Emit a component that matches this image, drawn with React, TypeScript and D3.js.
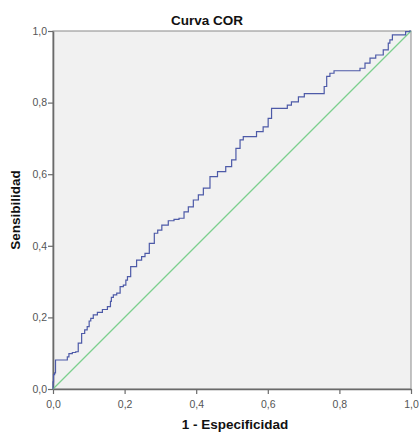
import React from "react";
import * as d3 from "d3";

// ROC points: [1 - especificidad, sensibilidad]
const rocPoints: [number, number][] = [
  [0, 0], [0, 0.02], [0.003, 0.04], [0.006, 0.045], [0.008, 0.081], [0.038, 0.081],
  [0.042, 0.09], [0.047, 0.099], [0.061, 0.102], [0.066, 0.104], [0.075, 0.128],
  [0.085, 0.155], [0.092, 0.165], [0.099, 0.174], [0.103, 0.19], [0.108, 0.197],
  [0.117, 0.207], [0.131, 0.214], [0.145, 0.222], [0.159, 0.23], [0.162, 0.245],
  [0.164, 0.256], [0.173, 0.263], [0.183, 0.268], [0.192, 0.286], [0.201, 0.29],
  [0.206, 0.304], [0.21, 0.314], [0.224, 0.342], [0.243, 0.36], [0.252, 0.37],
  [0.262, 0.379], [0.276, 0.407], [0.29, 0.435], [0.295, 0.444], [0.313, 0.458],
  [0.331, 0.47], [0.345, 0.474], [0.359, 0.477], [0.373, 0.495], [0.383, 0.509],
  [0.401, 0.528], [0.411, 0.542], [0.429, 0.561], [0.448, 0.593], [0.471, 0.607],
  [0.494, 0.621], [0.504, 0.64], [0.518, 0.672], [0.527, 0.696], [0.536, 0.705],
  [0.559, 0.705], [0.578, 0.719], [0.596, 0.732], [0.606, 0.756], [0.615, 0.784],
  [0.653, 0.784], [0.656, 0.793], [0.676, 0.802], [0.695, 0.816], [0.709, 0.825],
  [0.755, 0.825], [0.76, 0.845], [0.769, 0.873], [0.778, 0.882], [0.792, 0.889],
  [0.853, 0.889], [0.862, 0.896], [0.881, 0.91], [0.89, 0.924], [0.913, 0.933],
  [0.932, 0.947], [0.941, 0.966], [0.941, 0.975], [0.955, 0.989], [0.978, 0.989],
  [0.992, 0.998], [1, 1],
];

const diagonal: [number, number][] = [
  [0, 0],
  [1, 1],
];

const tickValues = [0, 0.2, 0.4, 0.6, 0.8, 1.0];

const title = "Curva COR";
const xTitle = "1 - Especificidad";
const yTitle = "Sensibilidad";

const FONT = "Arial, 'Liberation Sans', sans-serif";

const App = () => {
  const svgRef = React.useRef<SVGSVGElement>(null);
  const width = 419;
  const height = 432;
  const margin = { top: 31, right: 8, bottom: 43, left: 53 };
  const innerW = width - margin.left - margin.right;
  const innerH = height - margin.top - margin.bottom;

  React.useEffect(() => {
    const svgEl = d3.select(svgRef.current);
    svgEl.selectAll("*").remove();

    const xScale = d3.scaleLinear().domain([0, 1]).range([0, innerW]);
    const yScale = d3.scaleLinear().domain([0, 1]).range([innerH, 0]);
    const fmt = (d: d3.NumberValue) => d3.format(".1f")(d as number).replace(".", ",");

    const svg = svgEl
      .append("g")
      .attr("transform", `translate(${margin.left},${margin.top})`);

    // plot background + frame
    svg
      .append("rect")
      .attr("width", innerW)
      .attr("height", innerH)
      .attr("fill", "#f1f1f1")
      .attr("stroke", "#8a8a8a")
      .attr("stroke-width", 1);

    // x axis
    const xAxis = svg
      .append("g")
      .attr("transform", `translate(0,${innerH})`)
      .call(d3.axisBottom(xScale).tickValues(tickValues).tickFormat(fmt).tickSize(5).tickSizeOuter(0));

    // y axis
    const yAxis = svg
      .append("g")
      .call(d3.axisLeft(yScale).tickValues(tickValues).tickFormat(fmt).tickSize(5).tickSizeOuter(0));

    [xAxis, yAxis].forEach((ax) => {
      ax.select(".domain").attr("stroke", "#6a6a6a").attr("stroke-width", 1.6);
      ax.selectAll(".tick line").attr("stroke", "#6a6a6a").attr("stroke-width", 1.2);
      ax.selectAll(".tick text")
        .attr("fill", "#555")
        .style("font-family", FONT)
        .style("font-size", "10.5px");
    });
    xAxis.selectAll(".tick text").attr("dy", "1.0em");
    yAxis.selectAll(".tick text").attr("x", -6);

    const line = d3
      .line<[number, number]>()
      .x((d) => xScale(d[0]))
      .y((d) => yScale(d[1]));

    // reference diagonal
    svg
      .append("path")
      .datum(diagonal)
      .attr("fill", "none")
      .attr("stroke", "#7ccf8e")
      .attr("stroke-width", 1.2)
      .attr("d", line);

    // ROC curve (stepped)
    svg
      .append("path")
      .datum(rocPoints)
      .attr("fill", "none")
      .attr("stroke", "#4d5aa8")
      .attr("stroke-width", 1.2)
      .attr("d", line.curve(d3.curveStep));

    const addTitle = (txt: string, transform: string) =>
      svgEl
        .append("text")
        .attr("transform", transform)
        .attr("text-anchor", "middle")
        .style("font-family", FONT)
        .style("font-size", "13.5px")
        .style("font-weight", "bold")
        .attr("fill", "#111")
        .text(txt);

    addTitle(title, `translate(${margin.left + innerW / 2 - 25},25)`);
    addTitle(xTitle, `translate(${margin.left + innerW / 2 + 3},429)`);
    addTitle(yTitle, `translate(20,${margin.top + innerH / 2}) rotate(-90)`);
  }, []);

  return (
    <svg
      ref={svgRef}
      width={width}
      height={height}
      style={{ position: "absolute", left: 0, top: 0, background: "#fff" }}
    />
  );
};

export default App;
